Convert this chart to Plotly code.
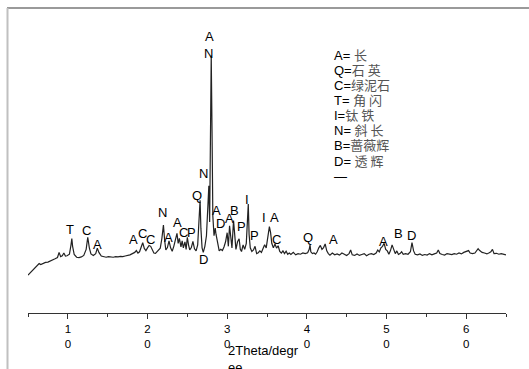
import plotly.graph_objects as go

# ---- spectrum (2theta in degrees, relative intensity) ----
two_theta = [
    5.0, 5.3, 5.6, 5.9, 6.2, 6.4, 6.6, 6.9, 7.2, 7.5, 7.8, 8.1, 8.4, 8.7, 8.9, 9.1, 9.3, 9.5, 9.7, 9.9,
    10.2, 10.4, 10.5, 10.6, 10.8, 11.1, 11.4, 11.7, 12.0, 12.3, 12.5, 12.7, 12.9, 13.2, 13.5, 13.7, 13.9,
    14.2, 14.5, 14.8, 15.1, 15.4, 15.7, 16.0, 16.3, 16.6, 16.9, 17.2, 17.5, 17.8, 18.1, 18.4, 18.6, 18.8,
    19.0, 19.2, 19.4, 19.6, 19.8, 20.0, 20.2, 20.4, 20.6, 20.8, 21.0, 21.2, 21.4, 21.6, 21.8, 22.0, 22.15,
    22.3, 22.5, 22.7, 22.9, 23.1, 23.3, 23.5, 23.7, 23.85, 24.0, 24.2, 24.35, 24.5, 24.7, 24.85, 25.0,
    25.15, 25.3, 25.5, 25.7, 25.9, 26.1, 26.3, 26.5, 26.6, 26.7, 26.85, 27.0, 27.2, 27.4, 27.6, 27.7,
    27.8, 27.9, 28.0, 28.1, 28.2, 28.35, 28.5, 28.6, 28.8, 29.0, 29.2, 29.4, 29.6, 29.8, 30.0, 30.15,
    30.3, 30.45, 30.6, 30.8, 30.95, 31.1, 31.3, 31.5, 31.65, 31.8, 32.0, 32.2, 32.4, 32.55, 32.65, 32.75,
    32.9, 33.1, 33.3, 33.5, 33.7, 33.9, 34.1, 34.3, 34.5, 34.7, 34.9, 35.1, 35.3, 35.45, 35.6, 35.8,
    36.0, 36.2, 36.4, 36.6, 36.8, 37.0, 37.2, 37.4, 37.6, 37.8, 38.0, 38.3, 38.6, 38.9, 39.2, 39.5,
    39.8, 40.1, 40.3, 40.4, 40.5, 40.7, 40.9, 41.1, 41.3, 41.5, 41.7, 41.9, 42.1, 42.3, 42.5, 42.7,
    42.9, 43.2, 43.5, 43.8, 44.1, 44.4, 44.7, 45.0, 45.3, 45.5, 45.7, 46.0, 46.3, 46.6, 46.9, 47.2,
    47.5, 47.8, 48.1, 48.4, 48.7, 48.9, 49.1, 49.3, 49.5, 49.7, 49.9, 50.1, 50.3, 50.5, 50.7, 50.9,
    51.1, 51.3, 51.5, 51.7, 51.9, 52.1, 52.4, 52.7, 53.0, 53.2, 53.4, 53.6, 53.9, 54.2, 54.5, 54.8,
    55.1, 55.4, 55.7, 56.0, 56.3, 56.5, 56.7, 57.0, 57.3, 57.6, 57.9, 58.2, 58.5, 58.8, 59.1, 59.4,
    59.7, 60.0, 60.3, 60.5, 60.8, 61.1, 61.3, 61.5, 61.7, 62.0, 62.3, 62.6, 62.9, 63.1, 63.3, 63.5,
    63.8, 64.1, 64.4, 64.7, 65.0,
]
intensity = [
    12.5, 13.3, 14.2, 15.0, 15.6, 16.3, 16.0, 16.4, 16.7, 16.8, 17.1, 17.4, 17.9, 18.3, 20.0, 18.6, 18.9, 19.8, 18.8, 18.9,
    19.4, 22.5, 24.6, 22.0, 19.3, 18.4, 18.3, 18.5, 19.0, 21.0, 25.0, 21.5, 19.5, 19.0, 19.6, 21.4, 20.0,
    18.8, 18.5, 18.4, 18.6, 18.5, 18.4, 18.6, 18.5, 18.7, 18.6, 18.8, 18.9, 19.2, 19.6, 20.0, 20.6, 19.8,
    20.2, 21.5, 23.2, 21.3, 20.6, 21.5, 22.3, 22.0, 21.0, 19.8, 19.7, 20.2, 20.6, 21.4, 24.5, 29.0, 24.0,
    20.8, 21.6, 23.8, 21.5, 20.4, 22.0, 24.0, 26.3, 23.0, 24.6, 21.8, 23.8, 21.5, 23.5, 21.0, 25.0,
    22.5, 20.8, 21.6, 23.6, 21.2, 20.5, 22.5, 30.0, 37.2, 28.0, 21.5, 20.0, 22.0, 25.5, 36.0, 42.0,
    30.0, 55.0, 85.0, 60.0, 32.0, 25.5, 28.0, 26.0, 22.5, 20.5, 21.0, 20.6, 21.8, 23.5, 26.5, 22.0,
    28.8, 24.0, 21.5, 30.5, 25.0, 21.0, 23.5, 24.5, 21.0, 20.3, 22.5, 21.0, 23.0, 30.0, 36.0, 26.0,
    21.5, 20.3, 20.8, 22.0, 19.6, 19.9, 20.5, 20.0, 21.3, 22.5, 21.5, 25.5, 28.5, 26.5, 23.0, 21.5,
    22.8, 21.4, 22.2, 20.3, 19.8, 20.5, 19.6, 20.4, 19.4, 19.8, 19.3, 20.0, 19.2, 19.6, 19.4, 19.8,
    19.6, 19.9, 21.0, 22.5, 20.2, 19.6, 19.8, 19.4, 20.2, 21.5, 22.3, 21.0, 21.6, 22.8, 20.5, 19.6,
    19.1, 19.8, 19.2, 19.5, 19.1, 19.8, 19.3, 19.0, 19.6, 20.8, 19.2, 19.0, 19.5, 19.0, 19.3, 19.6,
    18.9, 19.4, 19.6, 19.3, 19.8, 20.8, 20.2, 21.5, 22.0, 23.0, 21.0, 20.5, 19.4, 20.6, 22.5, 21.0,
    19.6, 20.5, 19.3, 19.6, 20.2, 19.4, 19.6, 19.4, 20.2, 23.2, 20.5, 19.4, 19.2, 19.5, 19.0, 19.3,
    19.1, 19.6, 19.2, 19.5, 19.8, 20.8, 19.6, 19.3, 19.1, 19.6, 19.4, 19.3, 19.6, 19.4, 19.8, 19.5,
    20.0, 20.2, 20.6, 19.8, 19.6, 19.8, 20.4, 21.2, 20.6, 20.0, 19.8, 19.5, 19.9, 20.2, 21.0, 19.6,
    19.7, 19.4, 19.6, 19.3, 19.2,
]

# ---- peak labels ----
peak_labels = ["A", "N", "T", "C", "A", "A", "C", "C", "N", "A", "A", "C", "P", "Q", "N", "D",
               "A", "D", "A", "B", "P", "I", "P", "I", "A", "C", "Q", "A", "A", "B", "D"]
peak_x = [27.76, 27.63, 10.27, 12.28, 13.70, 18.30, 19.40, 20.40, 21.91, 22.66, 23.74, 24.58, 25.46,
          26.17, 27.09, 27.00, 28.60, 29.19, 30.27, 30.89, 31.82, 32.53, 33.40, 34.66, 36.00, 36.22,
          40.18, 43.32, 49.68, 51.53, 53.20]
peak_y = [91.4, 85.7, 27.6, 27.2, 22.7, 24.3, 26.1, 24.3, 33.2, 25.0, 29.8, 26.5, 26.6,
          38.9, 45.9, 17.5, 33.7, 29.6, 31.3, 33.8, 28.7, 37.5, 25.5, 31.5, 31.5, 24.3,
          25.0, 24.3, 23.5, 26.1, 25.7]

# ---- mineral key ----
key_codes = ["A= ", "Q=", "C=", "T= ", "I=", "N= ", "B=", "D= ", "—"]
key_names = ["长", "石 英", "绿泥石", "角 闪", "钛 铁", "斜 长", "蔷薇辉", "透 辉", ""]

tick_vals = [10, 20, 30, 40, 50, 60]
tick_text = ["1<br>0", "2<br>0", "3<br>0", "4<br>0", "5<br>0", "6<br>0"]
x_title = "2Theta/degr<br>ee"

W, H = 529, 369
L, R, T, B = 28, 23, 10, 56
PW, PH = W - L - R, H - T - B

FONT = "Liberation Sans, Arial, sans-serif"
CJK = "Noto Sans CJK SC"

fig = go.Figure()
fig.add_trace(go.Scatter(x=two_theta, y=intensity, mode="lines",
                         line=dict(color="#222", width=1.2), hoverinfo="skip",
                         showlegend=False))

annotations = []
for t, xv, yv in zip(peak_labels, peak_x, peak_y):
    annotations.append(dict(x=xv, y=yv, xref="x", yref="y", text=t, showarrow=False,
                            font=dict(family=FONT, size=13, color="#000")))

key_lines = []
for code, name in zip(key_codes, key_names):
    line = f'<span style="font-size:13px">{code}</span>'
    if name:
        line += f'<span style="color:#555;font-family:{CJK};font-size:13px">{name}</span>'
    key_lines.append(line)
annotations.append(dict(x=(332 - L) / PW, y=(H - B - 43) / PH, xref="paper", yref="paper",
                        xanchor="left", yanchor="top", align="left",
                        text="<br>".join(key_lines), showarrow=False,
                        font=dict(family=FONT, size=11.6, color="#000")))

annotations.append(dict(x=(226 - L) / PW, y=(H - B - 341) / PH, xref="paper", yref="paper",
                        xanchor="left", yanchor="top", align="left", text=x_title,
                        showarrow=False, font=dict(family=FONT, size=13, color="#000")))

def px_x(p):
    return (p - L) / PW

def px_y(p):
    return (H - B - p) / PH

shapes = [
    dict(type="line", xref="paper", yref="paper", x0=px_x(7), x1=px_x(530), y0=px_y(8), y1=px_y(8),
         line=dict(color="#9a9a9a", width=2)),
    dict(type="line", xref="paper", yref="paper", x0=px_x(7.5), x1=px_x(7.5), y0=px_y(8), y1=px_y(370),
         line=dict(color="#c0c0c0", width=2)),
]

fig.update_layout(
    width=W, height=H,
    margin=dict(l=L, r=R, t=T, b=B),
    paper_bgcolor="white", plot_bgcolor="white",
    xaxis=dict(range=[5, 65], showgrid=False, zeroline=False, showline=True,
               linecolor="#333", linewidth=1, ticks="outside", ticklen=5, tickcolor="#333",
               tickvals=tick_vals, ticktext=tick_text,
               tickfont=dict(family=FONT, size=11.5, color="#000"),
               minor=dict(tickvals=[5, 15, 25, 35, 45, 55, 65], ticks="outside", ticklen=3,
                          tickcolor="#333")),
    yaxis=dict(range=[0, 100], visible=False),
    annotations=annotations,
    shapes=shapes,
    showlegend=False,
)

fig.write_html("out.html")
